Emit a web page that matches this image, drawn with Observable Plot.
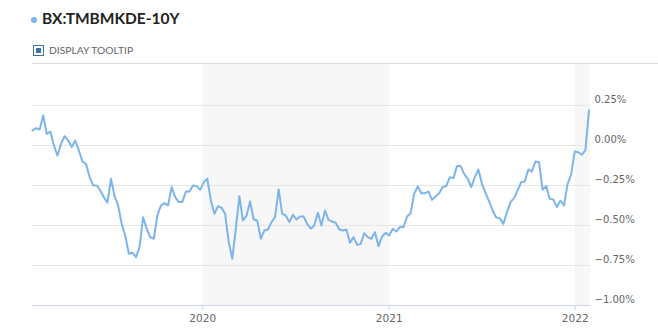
<!DOCTYPE html>
<html>
<head>
<meta charset="utf-8">
<script src="https://cdn.jsdelivr.net/npm/d3@7"></script>
<script src="https://cdn.jsdelivr.net/npm/@observablehq/plot@0.6"></script>
<style>
  html, body { margin: 0; padding: 0; background: #fff; }
  #wrap { width: 658px; height: 335px; position: relative; overflow: hidden; }
  #header { position: relative; width: 658px; height: 64px; }
  #dot { position: absolute; left: 31px; top: 17px; width: 6px; height: 6px; border-radius: 50%; background: #7cb5ec; }
  #title { position: absolute; left: 42px; top: 8px; font-family: Lato, "DejaVu Sans", sans-serif; font-weight: 700; font-size: 15.5px; color: #222; line-height: 20px; }
  #box { position: absolute; left: 33px; top: 45px; width: 9px; height: 9px; border: 1px solid #3a74aa; }
  #box::after { content: ""; position: absolute; left: 2px; top: 2px; width: 5px; height: 5px; background: #3a74aa; }
  #tip { position: absolute; left: 49px; top: 44px; font-family: Lato, "DejaVu Sans", sans-serif; font-size: 10.3px; color: #666; line-height: 13px; }
  #sep { position: absolute; left: 32px; right: 0; top: 63px; height: 1px; background: #dcdcdc; }
  svg { display: block; }
</style>
</head>
<body>
<div id="wrap">
  <div id="header">
    <div id="dot"></div>
    <div id="title">BX:TMBMKDE-10Y</div>
    <div id="box"></div>
    <div id="tip">DISPLAY TOOLTIP</div>
    <div id="sep"></div>
  </div>
  <div id="chart"></div>
</div>
<script>
const dates = [
"2019-02-01","2019-02-08","2019-02-15","2019-02-22","2019-03-01","2019-03-08","2019-03-15","2019-03-22","2019-03-29","2019-04-05","2019-04-12","2019-04-19","2019-04-26","2019-05-03","2019-05-10","2019-05-17","2019-05-24","2019-05-31","2019-06-07","2019-06-14","2019-06-21","2019-06-28","2019-07-05","2019-07-12","2019-07-19","2019-07-26","2019-08-02","2019-08-09","2019-08-16","2019-08-23","2019-08-30","2019-09-06","2019-09-13","2019-09-20","2019-09-27","2019-10-04","2019-10-11","2019-10-18","2019-10-25","2019-11-01","2019-11-08","2019-11-15","2019-11-22","2019-11-29","2019-12-06","2019-12-13","2019-12-20","2019-12-27",
"2020-01-03","2020-01-10","2020-01-17","2020-01-24","2020-01-31","2020-02-07","2020-02-14","2020-02-21","2020-02-28","2020-03-06","2020-03-13","2020-03-20","2020-03-27","2020-04-03","2020-04-10","2020-04-17","2020-04-24","2020-05-01","2020-05-08","2020-05-15","2020-05-22","2020-05-29","2020-06-05","2020-06-12","2020-06-19","2020-06-26","2020-07-03","2020-07-10","2020-07-17","2020-07-24","2020-07-31","2020-08-07","2020-08-14","2020-08-21","2020-08-28","2020-09-04","2020-09-11","2020-09-18","2020-09-25","2020-10-02","2020-10-09","2020-10-16","2020-10-23","2020-10-30","2020-11-06","2020-11-13","2020-11-20","2020-11-27","2020-12-04","2020-12-11","2020-12-18","2020-12-25",
"2021-01-01","2021-01-08","2021-01-15","2021-01-22","2021-01-29","2021-02-05","2021-02-12","2021-02-19","2021-02-26","2021-03-05","2021-03-12","2021-03-19","2021-03-26","2021-04-02","2021-04-09","2021-04-16","2021-04-23","2021-04-30","2021-05-07","2021-05-14","2021-05-21","2021-05-28","2021-06-04","2021-06-11","2021-06-18","2021-06-25","2021-07-02","2021-07-09","2021-07-16","2021-07-23","2021-07-30","2021-08-06","2021-08-13","2021-08-20","2021-08-27","2021-09-03","2021-09-10","2021-09-17","2021-09-24","2021-10-01","2021-10-08","2021-10-15","2021-10-22","2021-10-29","2021-11-05","2021-11-12","2021-11-19","2021-11-26","2021-12-03","2021-12-10","2021-12-17","2021-12-24","2021-12-31",
"2022-01-07","2022-01-14","2022-01-21","2022-01-28"
];
const yields = [
0.094,0.108,0.10,0.188,0.073,0.087,0.0,-0.063,0.01,0.058,0.031,-0.01,0.031,-0.031,-0.10,-0.115,-0.198,-0.25,-0.25,-0.281,-0.323,-0.358,-0.208,-0.317,-0.375,-0.49,
-0.563,-0.677,-0.67,-0.698,-0.635,-0.448,-0.52,-0.573,-0.583,-0.438,-0.375,-0.36,-0.375,-0.26,-0.323,-0.354,-0.354,-0.288,-0.288,-0.25,-0.254,-0.277,-0.229,-0.208,-0.344,-0.427,
-0.379,-0.39,-0.427,-0.604,-0.708,-0.52,-0.317,-0.469,-0.438,-0.35,-0.463,-0.469,-0.583,-0.531,-0.525,-0.479,-0.448,-0.275,-0.427,-0.438,-0.479,-0.433,-0.463,-0.444,-0.444,-0.49,-0.52,
-0.5,-0.42,-0.5,-0.406,-0.465,-0.475,-0.483,-0.525,-0.531,-0.525,-0.608,-0.573,-0.621,-0.615,-0.548,-0.573,-0.583,-0.542,-0.629,-0.569,-0.546,-0.563,-0.52,-0.538,-0.51,-0.51,
-0.444,-0.423,-0.302,-0.256,-0.298,-0.298,-0.288,-0.34,-0.319,-0.298,-0.26,-0.254,-0.198,-0.204,-0.129,-0.129,-0.177,-0.208,-0.26,-0.198,-0.15,-0.24,-0.296,-0.35,-0.406,-0.45,
-0.454,-0.49,-0.417,-0.354,-0.329,-0.281,-0.229,-0.225,-0.15,-0.163,-0.10,-0.104,-0.277,-0.254,-0.333,-0.338,-0.385,-0.344,-0.375,-0.24,-0.183,-0.038,-0.042,-0.058,-0.031,0.219
];
const yTicks = [0.25, 0, -0.25, -0.5, -0.75, -1.0];
const xTickLabels = ["2020-01-01", "2021-01-01", "2022-01-01"];
const bandStarts = ["2020-01-01", "2022-01-01"];
const bandEnds = ["2021-01-01", "2022-01-31"];
const xDomain = ["2019-02-01", "2022-01-31"];
const yDomain = [-1.0, 0.506];

const data = dates.map((d, i) => ({date: new Date(d), value: yields[i]}));
const bands = bandStarts.map((s, i) => ({start: new Date(s), end: new Date(bandEnds[i])}));
const fmt = d => (d < 0 ? "\u2212" : "") + Math.abs(d).toFixed(2) + "%";

const chart = Plot.plot({
  width: 658,
  height: 271,
  marginTop: 0,
  marginBottom: 30,
  marginLeft: 32,
  marginRight: 68,
  style: {fontFamily: "'DejaVu Sans', Verdana, sans-serif", fontSize: "10px", background: "#fff", overflow: "visible"},
  x: {type: "utc", domain: xDomain.map(d => new Date(d))},
  y: {domain: yDomain},
  marks: [
    Plot.rect(bands, {x1: "start", x2: "end", fill: "#f7f7f7"}),
    Plot.gridY(yTicks.filter(t => t > -1), {stroke: "#e6e6e6", strokeOpacity: 1}),
    Plot.ruleY([-1.0], {stroke: "#ccd6eb"}),
    Plot.axisY(yTicks, {anchor: "right", tickSize: 0, tickPadding: 4, dy: -6, tickFormat: fmt, fill: "#666", label: null}),
    Plot.axisX(xTickLabels.map(d => new Date(d)), {anchor: "bottom", tickSize: 5, tickPadding: 4, stroke: "#ccd6eb", fill: "#666", tickFormat: d3.utcFormat("%Y"), label: null, fontSize: 10.5}),
    Plot.line(data, {x: "date", y: "value", stroke: "#7cb5ec", strokeWidth: 2})
  ]
});
document.getElementById("chart").appendChild(chart);
</script>
</body>
</html>
